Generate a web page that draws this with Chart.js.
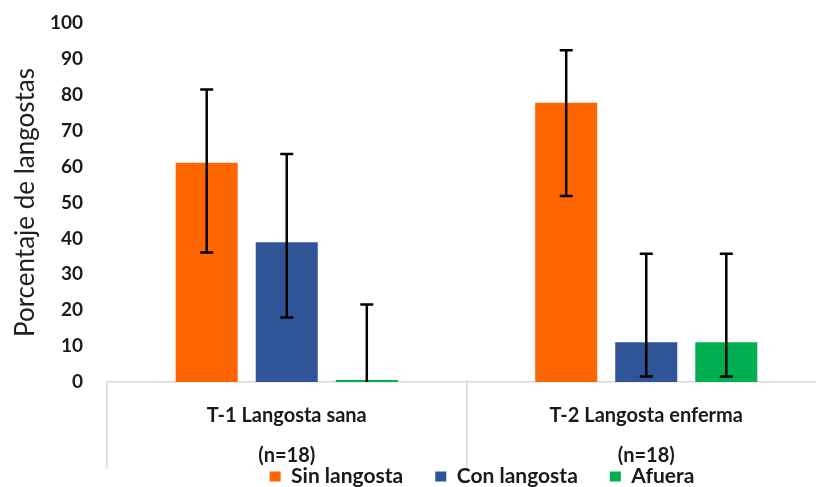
<!DOCTYPE html>
<html>
<head>
<meta charset="utf-8">
<script src="https://cdn.jsdelivr.net/npm/chart.js@4/dist/chart.umd.min.js"></script>
<style>
  html, body { margin: 0; padding: 0; background: #ffffff; overflow: hidden; }
  #wrap { position: absolute; left: 0; top: 0; width: 826px; height: 529px; }
</style>
</head>
<body>
<div id="wrap"><canvas id="c"></canvas></div>
<script>
// ---- data ----
const categoryNames = ["T-1 Langosta sana", "T-2 Langosta enferma"];
const sampleSizes = ["(n=18)", "(n=18)"];
const seriesNames = ["Sin langosta", "Con langosta", "Afuera"];
const sinLangosta = [61.1, 77.8];
const conLangosta = [38.9, 11.1];
const afuera = [0, 11.1];
const sinLow = [36.1, 51.8];
const sinHigh = [81.5, 92.4];
const conLow = [18.0, 1.5];
const conHigh = [63.5, 35.7];
const afuLow = [0, 1.5];
const afuHigh = [21.6, 35.7];
const yMin = 0, yMax = 100, yStep = 10;
const yTitle = "Porcentaje de langostas";

const colors = ["#FF6600", "#2F5597", "#00B050"];
const labels = categoryNames.map((n, i) => [n, "", sampleSizes[i]]);

const errorBars = {
  id: 'errorBars',
  afterDatasetsDraw(chart) {
    const ctx = chart.ctx;
    const ys = chart.scales.y;
    ctx.save();
    ctx.strokeStyle = '#000000';
    ctx.lineWidth = 2.5;
    chart.data.datasets.forEach((ds, i) => {
      const meta = chart.getDatasetMeta(i);
      meta.data.forEach((bar, j) => {
        const x = bar.x;
        const yt = ys.getPixelForValue(ds.errHigh[j]);
        const yb = ys.getPixelForValue(ds.errLow[j]);
        const half = 6.5;
        ctx.beginPath();
        ctx.moveTo(x, yt); ctx.lineTo(x, yb);
        ctx.moveTo(x - half, yt); ctx.lineTo(x + half, yt);
        if (ds.errLow[j] < ds.data[j]) {
          ctx.moveTo(x - half, yb); ctx.lineTo(x + half, yb);
        }
        ctx.stroke();
      });
    });
    ctx.restore();
  }
};

const legendShift = {
  id: 'legendShift',
  afterLayout(chart) {
    const l = chart.legend;
    if (!l) return;
    const dx = 69, dy = -32;
    l.left += dx; l.right += dx;
    l.top += dy; l.bottom += dy;
  }
};

const mk = (i, data, lo, hi) => ({
  label: seriesNames[i],
  data: data,
  errLow: lo,
  errHigh: hi,
  backgroundColor: colors[i],
  borderWidth: 0,
  categoryPercentage: 0.668,
  barPercentage: 0.775,
  minBarLength: i === 2 ? 2 : 0
});

new Chart(document.getElementById('c'), {
  type: 'bar',
  data: {
    labels: labels,
    datasets: [
      mk(0, sinLangosta, sinLow, sinHigh),
      mk(1, conLangosta, conLow, conHigh),
      mk(2, afuera, afuLow, afuHigh)
    ]
  },
  options: {
    responsive: true,
    maintainAspectRatio: false,
    animation: false,
    layout: { padding: { top: 23, left: 0, right: 0, bottom: 0 } },
    plugins: {
      tooltip: { enabled: false },
      legend: {
        position: 'bottom',
        labels: {
          boxWidth: 11,
          boxHeight: 10,
          padding: 32,
          color: '#1a1a1a',
          font: { family: 'Lato', size: 21, weight: 'bold' }
        }
      }
    },
    scales: {
      x: {
        grid: {
          display: true,
          drawOnChartArea: false,
          drawTicks: true,
          tickLength: 87,
          color: '#d9d9d9',
          lineWidth: 1.5,
          offset: true
        },
        border: { display: true, color: '#d9d9d9', width: 1.5 },
        ticks: {
          padding: -63,
          maxRotation: 0,
          color: '#1a1a1a',
          font: { family: 'Lato', size: 20, weight: 'bold', lineHeight: 1.0 }
        },
        afterFit(scale) { scale.height = 84; }
      },
      y: {
        min: yMin, max: yMax,
        grid: { display: false, drawTicks: true, tickLength: 24 },
        border: { display: false },
        ticks: {
          stepSize: yStep,
          padding: 0,
          color: '#1a1a1a',
          font: { family: 'Lato', size: 19, weight: 'bold' }
        },
        title: {
          display: true,
          text: yTitle,
          color: '#1f1f1f',
          padding: { top: 10, bottom: 0 },
          font: { family: 'Lato', size: 26, weight: 'normal' }
        },
        afterFit(scale) { scale.width = 107; }
      }
    }
  },
  plugins: [errorBars, legendShift]
});
</script>
</body>
</html>
